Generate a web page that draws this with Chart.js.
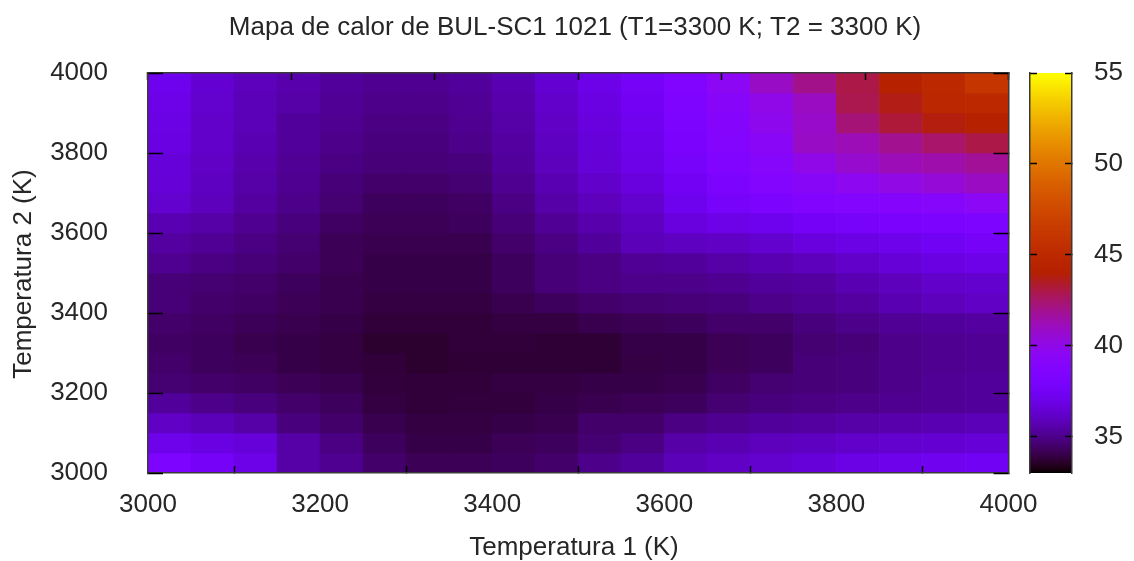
<!DOCTYPE html>
<html>
<head>
    <title>Mapa de calor</title>
    <script src="https://cdn.jsdelivr.net/npm/chart.js"></script>
    <style>
        html, body { margin: 0; padding: 0; background: #fff; overflow: hidden; }
        #wrap { position: relative; width: 1134px; height: 561px; }
        canvas { position: absolute; left: 0; top: 0; }
    </style>
</head>
<body>
<div id="wrap">
    <canvas id="mapa" width="1134" height="561"></canvas>
    <canvas id="barra" width="1134" height="561"></canvas>
</div>
<script>
// bin centres, 50 K wide
const temperatura1 = [3025, 3075, 3125, 3175, 3225, 3275, 3325, 3375, 3425, 3475, 3525, 3575, 3625, 3675, 3725, 3775, 3825, 3875, 3925, 3975];
const temperatura2 = [3975, 3925, 3875, 3825, 3775, 3725, 3675, 3625, 3575, 3525, 3475, 3425, 3375, 3325, 3275, 3225, 3175, 3125, 3075, 3025];

// one row per temperatura2 bin, top of the map first
const fila3975 = [37.2,36.4,35.9,35.6,35.3,35.1,35.1,35.3,35.7,36.4,37.0,37.7,38.5,39.6,40.9,42.0,43.0,44.2,45.0,46.0];
const fila3925 = [37.0,36.3,35.8,35.5,35.2,35.0,35.0,35.2,35.6,36.2,36.8,37.5,38.4,39.2,40.0,41.0,42.9,43.7,44.8,45.0];
const fila3875 = [36.9,36.2,35.8,35.3,35.1,34.9,34.9,35.1,35.5,36.1,36.7,37.3,38.2,39.0,39.8,40.8,42.3,43.2,43.8,44.2];
const fila3825 = [36.8,36.2,35.7,35.3,35.0,34.8,34.8,35.0,35.4,36.0,36.6,37.1,38.1,38.8,39.4,40.9,41.2,41.9,42.5,43.0];
const fila3775 = [36.6,36.1,35.6,35.2,34.9,34.7,34.7,34.8,35.3,35.9,36.5,37.0,37.9,38.5,39.1,40.0,40.7,41.2,41.4,41.8];
const fila3725 = [36.5,36.0,35.5,35.1,34.7,34.5,34.5,34.6,35.1,35.7,36.2,36.7,37.5,38.2,38.9,39.3,39.7,40.1,40.5,41.0];
const fila3675 = [36.3,35.9,35.4,35.0,34.6,34.3,34.3,34.4,34.9,35.5,35.9,36.3,37.2,37.8,38.2,38.7,38.9,39.0,39.1,39.5];
const fila3625 = [35.7,35.5,35.1,34.8,34.4,34.2,34.2,34.3,34.7,35.2,35.6,36.0,36.7,37.0,37.2,37.6,37.9,38.1,38.2,38.3];
const fila3575 = [35.4,35.2,34.9,34.6,34.2,34.1,34.1,34.1,34.5,34.9,35.3,35.8,36.0,36.1,36.3,36.7,36.9,37.1,37.4,37.7];
const fila3525 = [35.1,34.9,34.7,34.5,34.2,34.0,34.0,34.0,34.3,34.7,34.9,35.2,35.3,35.5,35.7,35.9,36.2,36.5,36.8,37.0];
const fila3475 = [34.7,34.6,34.5,34.3,34.1,34.0,34.0,34.0,34.3,34.7,34.9,35.0,35.0,35.1,35.3,35.4,35.7,35.9,36.2,36.3];
const fila3425 = [34.7,34.5,34.4,34.2,34.1,33.9,33.9,33.9,34.1,34.3,34.5,34.6,34.7,34.8,35.0,35.2,35.4,35.7,35.9,36.1];
const fila3375 = [34.5,34.4,34.25,34.1,34.0,33.8,33.8,33.8,33.9,33.9,34.1,34.2,34.3,34.5,34.5,34.8,35.0,35.2,35.3,35.4];
const fila3325 = [34.4,34.3,34.1,34.0,33.9,33.65,33.65,33.8,33.8,33.75,33.75,34.0,34.0,34.2,34.3,34.6,34.7,35.0,35.1,35.2];
const fila3275 = [34.5,34.3,34.2,34.0,33.9,33.8,33.65,33.75,33.75,33.75,33.75,33.95,34.0,34.2,34.3,34.7,34.8,35.0,35.1,35.2];
const fila3225 = [34.6,34.5,34.4,34.2,34.1,33.85,33.8,33.8,33.9,33.9,34.0,34.0,34.1,34.4,34.6,34.7,34.8,35.0,35.2,35.3];
const fila3175 = [35.3,35.0,34.8,34.5,34.3,33.9,33.8,33.85,33.85,34.0,34.1,34.2,34.3,34.6,34.8,34.9,35.0,35.1,35.2,35.3];
const fila3125 = [36.1,35.8,35.5,34.8,34.5,34.1,33.9,33.9,34.0,34.1,34.5,34.5,34.9,35.1,35.3,35.4,35.5,35.6,35.7,35.8];
const fila3075 = [37.1,36.8,36.6,35.5,34.9,34.3,34.0,34.0,34.2,34.3,34.6,34.9,35.5,35.7,35.9,36.0,36.2,36.3,36.4,36.5];
const fila3025 = [38.3,37.7,37.0,35.5,35.1,34.5,34.2,34.2,34.3,34.5,35.0,35.3,35.8,36.1,36.3,36.6,36.9,37.1,37.3,37.4];
const filas = [fila3975, fila3925, fila3875, fila3825, fila3775, fila3725, fila3675, fila3625, fila3575, fila3525,
               fila3475, fila3425, fila3375, fila3325, fila3275, fila3225, fila3175, fila3125, fila3075, fila3025];

const ticksT = [3000, 3200, 3400, 3600, 3800, 4000];
const ticksBarra = [35, 40, 45, 50, 55];
const minBarra = 33;
const maxBarra = 55;
const mitadBin = 25;

const tituloTexto = 'Mapa de calor de BUL-SC1 1021 (T1=3300 K; T2 = 3300 K)';
const tituloX = 'Temperatura 1 (K)';
const tituloY = 'Temperatura 2 (K)';

const fuente = 'Liberation Sans, Arial, sans-serif';
const gris = '#262626';

// gnuplot default palette (rgbformulae 7,5,15)
function colorDe(v) {
    const t = Math.min(1, Math.max(0, (v - minBarra) / (maxBarra - minBarra)));
    const r = Math.round(255 * Math.sqrt(t));
    const g = Math.round(255 * t * t * t);
    const b = Math.round(255 * Math.max(0, Math.sin(2 * Math.PI * t)));
    return `rgb(${r},${g},${b})`;
}

function marco(largo) {
    return {
        grid: { drawOnChartArea: false, drawTicks: true, tickLength: largo, tickColor: '#000', tickWidth: 1.5, z: 1 },
        border: { color: '#3a3a3a', width: 1.5, z: 1 }
    };
}

function soloTicks(lista) {
    return axis => { axis.ticks = lista.map(value => ({ value })); };
}

// titles sit a few pixels off the plot centre in the original, so placed by hand
const textos = {
    id: 'textos',
    afterDraw(chart) {
        const c = chart.ctx;
        c.save();
        c.fillStyle = gris;
        c.textAlign = 'center';
        c.textBaseline = 'middle';
        c.font = '26px ' + fuente;
        c.fillText(tituloTexto, 575, 28);
        c.fillText(tituloX, 574, 548);
        c.translate(24, 274);
        c.rotate(-Math.PI / 2);
        c.fillText(tituloY, 0, 0);
        c.restore();
    }
};

new Chart(document.getElementById('mapa'), {
    type: 'bar',
    data: {
        datasets: filas.map((fila, i) => ({
            data: temperatura1.map(x => ({ x, y: [temperatura2[i] - mitadBin, temperatura2[i] + mitadBin] })),
            backgroundColor: fila.map(colorDe),
            borderWidth: 0,
            grouped: false,
            barPercentage: 1,
            categoryPercentage: 1
        }))
    },
    options: {
        responsive: false,
        animation: false,
        layout: { padding: { left: 0, top: 73, right: 125.5, bottom: 0 } },
        plugins: { legend: { display: false }, tooltip: { enabled: false } },
        scales: {
            x: {
                type: 'linear', min: 3000, max: 4000, offset: false, position: 'bottom',
                afterBuildTicks: soloTicks(ticksT),
                afterFit: s => { s.height = 88; },
                ...marco(-7),
                ticks: { font: { family: fuente, size: 26 }, color: gris, padding: 23, maxRotation: 0, autoSkip: false, callback: v => String(v) }
            },
            x2: {
                type: 'linear', min: 3000, max: 4000, position: 'top',
                afterBuildTicks: soloTicks(ticksT),
                afterFit: s => { s.height = 0; },
                ...marco(-7),
                ticks: { display: false }
            },
            y: {
                type: 'linear', min: 3000, max: 4000, position: 'left',
                afterBuildTicks: soloTicks(ticksT),
                afterFit: s => { s.width = 148; },
                ...marco(-15),
                ticks: { font: { family: fuente, size: 26 }, color: gris, padding: 55, autoSkip: false, callback: v => String(v) }
            },
            y2: {
                type: 'linear', min: 3000, max: 4000, position: 'right',
                afterBuildTicks: soloTicks(ticksT),
                afterFit: s => { s.width = 0; },
                ...marco(-15),
                ticks: { display: false }
            }
        }
    },
    plugins: [textos]
});

// colour box: one floating bar filled with the palette
new Chart(document.getElementById('barra'), {
    type: 'bar',
    data: {
        labels: [''],
        datasets: [{
            data: [[minBarra, maxBarra]],
            borderWidth: 0,
            barPercentage: 1,
            categoryPercentage: 1,
            backgroundColor: ctx => {
                const area = ctx.chart.chartArea;
                if (!area) return '#000';
                const g = ctx.chart.ctx.createLinearGradient(0, area.bottom, 0, area.top);
                for (let i = 0; i <= 110; i++) {
                    g.addColorStop(i / 110, colorDe(minBarra + (maxBarra - minBarra) * i / 110));
                }
                return g;
            }
        }]
    },
    options: {
        responsive: false,
        animation: false,
        layout: { padding: { left: 1030, top: 73, right: 0, bottom: 88 } },
        plugins: { legend: { display: false }, tooltip: { enabled: false } },
        scales: {
            x: { display: false },
            y: {
                type: 'linear', min: minBarra, max: maxBarra, position: 'right',
                afterBuildTicks: soloTicks(ticksBarra),
                afterFit: s => { s.width = 62; },
                ...marco(-7),
                ticks: { font: { family: fuente, size: 26 }, color: gris, padding: 29, autoSkip: false }
            },
            y2: {
                type: 'linear', min: minBarra, max: maxBarra, position: 'left',
                afterBuildTicks: soloTicks(ticksBarra),
                afterFit: s => { s.width = 0; },
                ...marco(-7),
                ticks: { display: false }
            }
        }
    }
});
</script>
</body>
</html>
